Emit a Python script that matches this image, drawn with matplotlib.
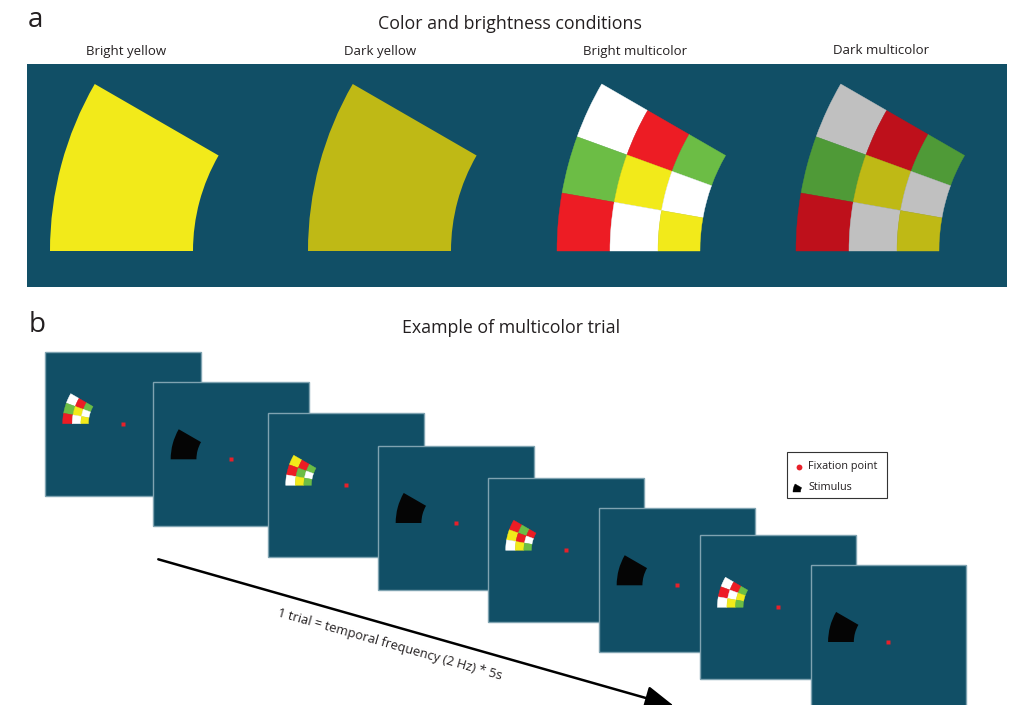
import matplotlib
matplotlib.use("Agg")
import matplotlib.pyplot as plt
from matplotlib.patches import Rectangle, Wedge

plt.rcParams['font.family'] = ['Open Sans', 'DejaVu Sans']

# ---- panel a: colour / brightness conditions ----
condition_names = ["Bright yellow", "Dark yellow", "Bright multicolor", "Dark multicolor"]
condition_label_x = [126, 380, 635, 881]
condition_center_x = [384, 642, 891, 1130]

bright_palette = {"W": "#ffffff", "R": "#ed1c24", "G": "#6cbd45", "Y": "#f2ea1a"}
dark_palette = {"W": "#c0c0c0", "R": "#be101b", "G": "#4f9a37", "Y": "#bfb915"}

# checker layouts: rows from top (150-160 deg) to bottom (170-180 deg),
# columns from outer ring to inner ring; None means one uniform colour
grid_multicolor = [["W", "R", "G"], ["G", "Y", "W"], ["R", "W", "Y"]]
condition_grids = [None, None, grid_multicolor, grid_multicolor]
condition_palettes = [bright_palette, dark_palette, bright_palette, dark_palette]

# ring radii (outer -> inner) and polar angle edges (top -> bottom), panel-a scale
ring_radii = [334, 281, 233, 191]
angle_edges = [150, 160, 170, 180]

# ---- panel b: trial sequence ----
frame_left = [45.3, 153.3, 268.3, 378.3, 488.3, 599.3, 700.0, 810.7]
frame_top = [351.7, 382.3, 413.3, 446.0, 478.3, 508.3, 535.3, 565.0]
frame_kind = ["color", "black", "color", "black", "color", "black", "color", "black"]
frame_grids = [
    [["W", "R", "G"], ["G", "Y", "W"], ["R", "W", "Y"]],
    None,
    [["Y", "R", "G"], ["R", "G", "W"], ["W", "Y", "G"]],
    None,
    [["R", "G", "R"], ["Y", "R", "W"], ["W", "Y", "G"]],
    None,
    [["W", "R", "G"], ["R", "W", "Y"], ["W", "Y", "G"]],
    None,
]
frame_w, frame_h = 155.5, 144.0
frame_scale = 0.18

teal = "#114f66"
frame_edge = "#7fa3b1"
fix_red = "#e8202a"
text_col = "#231f20"

fig = plt.figure(figsize=(10.13, 7.05), dpi=100)
ax = fig.add_axes([0, 0, 1, 1])
ax.set_xlim(0, 1013)
ax.set_ylim(705, 0)
ax.axis("off")


def draw_stimulus(cx, cy, scale, grid, palette, zorder, solid=None):
    # y axis points down, so a screen angle s maps to data angle 360 - s
    if grid is None:
        r_out = ring_radii[0] * scale
        r_in = ring_radii[-1] * scale
        col = solid if solid is not None else palette["Y"]
        ax.add_patch(Wedge((cx, cy), r_out, 360 - angle_edges[-1],
                           360 - angle_edges[0], width=r_out - r_in,
                           facecolor=col, edgecolor="none", zorder=zorder))
        return
    for i in range(3):
        s_lo, s_hi = angle_edges[i], angle_edges[i + 1]
        t1, t2 = 360 - s_hi, 360 - s_lo
        for j in range(3):
            r_out = ring_radii[j] * scale
            r_in = ring_radii[j + 1] * scale
            col = palette[grid[i][j]]
            ax.add_patch(Wedge((cx, cy), r_out, t1, t2, width=r_out - r_in,
                               facecolor=col, edgecolor=col, lw=0.3,
                               zorder=zorder))


# panel labels and titles
ax.text(35, 20, "a", fontsize=20, ha="center", va="center", color=text_col)
ax.text(37, 325, "b", fontsize=20, ha="center", va="center", color=text_col)
ax.text(510, 24, "Color and brightness conditions", fontsize=12.8,
        ha="center", va="center", color=text_col)
ax.text(511, 328, "Example of multicolor trial", fontsize=12.8, ha="center",
        va="center", color=text_col)

# panel a background and stimuli
ax.add_patch(Rectangle((27, 64), 980, 223, facecolor=teal, edgecolor="none",
                       zorder=1))
for name, lx, cx, grid, pal in zip(condition_names, condition_label_x,
                                   condition_center_x, condition_grids,
                                   condition_palettes):
    ax.text(lx, 51, name, fontsize=9.5, ha="center", va="center",
            color=text_col)
    draw_stimulus(cx, 251, 1.0, grid, pal, zorder=2)

# panel b frames
for k, (fx, fy, kind, grid) in enumerate(zip(frame_left, frame_top,
                                             frame_kind, frame_grids)):
    z = 10 + 3 * k
    ax.add_patch(Rectangle((fx, fy), frame_w, frame_h, facecolor=teal,
                           edgecolor=frame_edge, lw=1.0, zorder=z))
    fcx = fx + 77.5
    fcy = fy + (72 if kind == "color" else 77)
    if kind == "color":
        draw_stimulus(fcx, fcy, frame_scale, grid, bright_palette, z + 1)
    else:
        draw_stimulus(fcx, fcy, frame_scale, None, None, z + 1,
                      solid="#050505")
    ax.plot([fcx], [fcy], marker="s", ms=2.2, color=fix_red, mec="none",
            zorder=z + 2)

# legend box
ax.add_patch(Rectangle((786.5, 451.5), 100, 46.5, facecolor="white",
                       edgecolor="#333333", lw=0.8, zorder=5))
ax.plot([799], [466.5], marker="o", ms=4.2, color=fix_red, mec="none",
        zorder=6)
ax.text(808, 466, "Fixation point", fontsize=7.8, ha="left", va="center",
        color=text_col, zorder=6)
ax.add_patch(Wedge((809, 492), 16, 180, 210, width=7.5, facecolor="black",
                   edgecolor="black", lw=0.3, zorder=6))
ax.text(808, 487, "Stimulus", fontsize=7.8, ha="left", va="center",
        color=text_col, zorder=6)

# time arrow
ax.annotate("", xy=(674, 706), xytext=(158.3, 559.3),
            arrowprops=dict(arrowstyle="-|>,head_length=1.2,head_width=0.5",
                            lw=1.8, color="black", mutation_scale=15,
                            shrinkA=0, shrinkB=0),
            annotation_clip=False, zorder=3)
ax.text(390, 645, "1 trial = temporal frequency (2 Hz) * 5s", fontsize=9.3,
        ha="center", va="center", rotation=-15.85, rotation_mode="anchor",
        color=text_col, zorder=3)

fig.savefig("out.png", dpi=100, facecolor="white")
